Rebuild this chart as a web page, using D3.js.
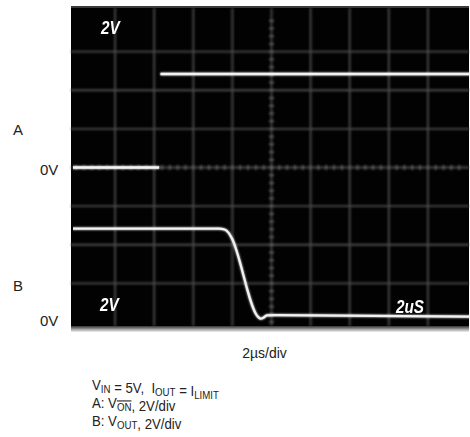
<!DOCTYPE html>
<html>
<head>
<meta charset="utf-8">
<script src="https://cdn.jsdelivr.net/npm/d3@7"></script>
<style>
  body { margin: 0; background: #fff; }
  text { font-family: 'Liberation Sans', Arial, sans-serif; white-space: pre; }
</style>
</head>
<body>
<div id="scope"></div>
<script>
// trace A (V_ON) : time in us, volts (null = beam gap)
let aTime = [-0.2, 4.25, 4.27, 4.32, 20.2]
let aVolts = [0, 0, null, 4.84, 4.84]

// trace B (V_OUT)
let bTime = [-0.2, 7.3, 7.6, 7.8, 7.95, 9.3, 9.45, 9.6, 9.75, 10.23, 20.2]
let bVolts = [4.71, 4.71, 4.66, 4.5, 4.25, 0.15, 0.04, 0.1, 0.21, 0.23, 0.15]

let voltsPerDiv = 2
let aOffsetDiv = 4      // channel A 0V on centre line
let bOffsetDiv = 0.065  // channel B 0V near bottom

let screenText = [
  { t: '2V', x: 101, y: 34 },
  { t: '2V', x: 100, y: 311 },
  { t: '2uS', x: 396, y: 313 }
]

let width = 470
let height = 437

let screen = { left: 71, right: 469, top: 6, bottom: 326 }

let svg = d3
  .select('#scope')
  .append('svg')
  .attr('width', width)
  .attr('height', height)

let xScale = d3.scaleLinear().domain([0, 20]).range([76, 467])
let divScale = d3.scaleLinear().domain([0, 8]).range([322, 13])

let defs = svg.append('defs')

let glow = defs.append('filter').attr('id', 'glow')
  .attr('x', '-5%').attr('y', '-5%').attr('width', '110%').attr('height', '110%')
glow.append('feGaussianBlur').attr('stdDeviation', 1.3).attr('result', 'b')
let merge = glow.append('feMerge')
merge.append('feMergeNode').attr('in', 'b')
merge.append('feMergeNode').attr('in', 'SourceGraphic')

defs.append('filter').attr('id', 'soft')
  .append('feGaussianBlur').attr('stdDeviation', 0.8)

defs.append('filter').attr('id', 'softer')
  .append('feGaussianBlur').attr('stdDeviation', 0.5)

let edge = defs.append('linearGradient').attr('id', 'edge')
  .attr('x1', 0).attr('x2', 0).attr('y1', 0).attr('y2', 1)
edge.append('stop').attr('offset', '0%').attr('stop-color', '#333')
edge.append('stop').attr('offset', '60%').attr('stop-color', '#aaa')
edge.append('stop').attr('offset', '100%').attr('stop-color', '#f0f0f0')

// screen
svg.append('rect')
  .attr('x', screen.left)
  .attr('y', screen.top)
  .attr('width', screen.right - screen.left)
  .attr('height', screen.bottom - screen.top)
  .attr('fill', '#020202')

svg.append('rect')
  .attr('x', screen.left)
  .attr('y', screen.bottom)
  .attr('width', screen.right - screen.left)
  .attr('height', 6)
  .attr('fill', 'url(#edge)')

svg.append('line')
  .attr('x1', screen.left).attr('x2', screen.right)
  .attr('y1', screen.top + 1).attr('y2', screen.top + 1)
  .attr('stroke', '#3a3a3a').attr('stroke-width', 2)

// graticule
let grid = svg.append('g').attr('filter', 'url(#soft)')

grid.selectAll('.vgrid')
  .data(d3.range(1, 10))
  .enter()
  .append('line')
  .attr('class', 'vgrid')
  .attr('x1', d => xScale(d * 2))
  .attr('x2', d => xScale(d * 2))
  .attr('y1', screen.top + 2)
  .attr('y2', screen.bottom)
  .attr('stroke', '#4c4c4c')
  .attr('stroke-width', 1.8)

grid.selectAll('.hgrid')
  .data(d3.range(1, 8))
  .enter()
  .append('line')
  .attr('class', 'hgrid')
  .attr('x1', screen.left)
  .attr('x2', screen.right)
  .attr('y1', d => divScale(d))
  .attr('y2', d => divScale(d))
  .attr('stroke', '#4c4c4c')
  .attr('stroke-width', 1.8)

// minor ticks on centre lines
grid.selectAll('.htick')
  .data(d3.range(0, 50))
  .enter()
  .append('line')
  .attr('x1', d => xScale(d * 0.4))
  .attr('x2', d => xScale(d * 0.4))
  .attr('y1', divScale(4) - 2.5)
  .attr('y2', divScale(4) + 2.5)
  .attr('stroke', '#6a6a6a')
  .attr('stroke-width', 1.5)

grid.selectAll('.vtick')
  .data(d3.range(0, 40))
  .enter()
  .append('line')
  .attr('x1', xScale(10) - 2.5)
  .attr('x2', xScale(10) + 2.5)
  .attr('y1', d => divScale(d * 0.2))
  .attr('y2', d => divScale(d * 0.2))
  .attr('stroke', '#6a6a6a')
  .attr('stroke-width', 1.5)

// traces
let aData = aTime.map((t, i) => ({ t: t, v: aVolts[i] }))
let bData = bTime.map((t, i) => ({ t: t, v: bVolts[i] }))

let lineA = d3.line()
  .defined(d => d.v !== null)
  .x(d => xScale(d.t))
  .y(d => divScale(aOffsetDiv + d.v / voltsPerDiv))

let lineB = d3.line()
  .curve(d3.curveMonotoneX)
  .x(d => xScale(d.t))
  .y(d => divScale(bOffsetDiv + d.v / voltsPerDiv))

defs.append('clipPath').attr('id', 'clipScreen')
  .append('rect')
  .attr('x', screen.left + 2)
  .attr('y', screen.top)
  .attr('width', screen.right - screen.left - 2)
  .attr('height', screen.bottom - screen.top)

let traces = svg.append('g')
  .attr('clip-path', 'url(#clipScreen)')

traces.append('path')
  .datum(aData)
  .attr('d', lineA)
  .attr('fill', 'none')
  .attr('stroke', '#f2f2f2')
  .attr('stroke-width', 2.4)
  .attr('filter', 'url(#glow)')

traces.append('path')
  .datum(bData)
  .attr('d', lineB)
  .attr('fill', 'none')
  .attr('stroke', '#f2f2f2')
  .attr('stroke-width', 2.2)
  .attr('filter', 'url(#glow)')

// readouts on screen
svg.selectAll('.readout')
  .data(screenText)
  .enter()
  .append('text')
  .attr('class', 'readout')
  .attr('transform', d => 'translate(' + d.x + ',' + d.y + ') scale(0.85,1)')
  .attr('fill', '#ffffff')
  .attr('font-size', 18)
  .attr('font-weight', 'bold')
  .attr('font-style', 'italic')
  .attr('filter', 'url(#softer)')
  .text(d => d.t)

// channel labels
let side = svg.append('g').attr('font-size', 15).attr('fill', '#222')
side.append('text').attr('x', 13).attr('y', 135).text('A')
side.append('text').attr('x', 40).attr('y', divScale(aOffsetDiv) + 7).text('0V')
side.append('text').attr('x', 13).attr('y', 291).text('B')
side.append('text').attr('x', 40).attr('y', divScale(bOffsetDiv) + 7).text('0V')

// caption
let cap = svg.append('g').attr('font-size', 15).attr('fill', '#222')

cap.append('text')
  .attr('transform', 'translate(' + (xScale(10) - 7) + ',358) scale(0.93,1)')
  .attr('text-anchor', 'middle')
  .text('2µs/div')

function sub(t, s, over) {
  let ts = t.append('tspan').attr('font-size', 11).attr('dy', 3).text(s)
  if (over) ts.attr('text-decoration', 'overline')
  t.append('tspan').attr('dy', -3).text('')
  return t
}

function captionLine(y) {
  return cap.append('text').attr('transform', 'translate(92,' + y + ') scale(0.88,1)')
}

let l1 = captionLine(390)
l1.append('tspan').text('V')
sub(l1, 'IN')
l1.append('tspan').text(' = 5V,  I')
sub(l1, 'OUT')
l1.append('tspan').text(' = I')
sub(l1, 'LIMIT')

let l2 = captionLine(408)
l2.append('tspan').text('A: V')
sub(l2, 'ON', true)
l2.append('tspan').text(', 2V/div')

let l3 = captionLine(426)
l3.append('tspan').text('B: V')
sub(l3, 'OUT')
l3.append('tspan').text(', 2V/div')
</script>
</body>
</html>
